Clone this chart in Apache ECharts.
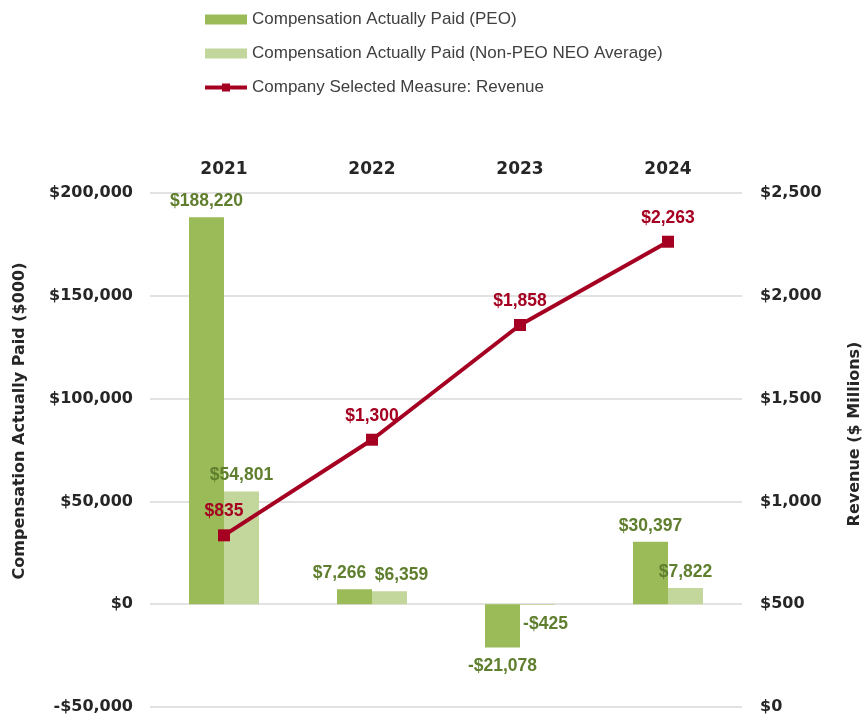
<!DOCTYPE html>
<html>
<head>
<meta charset="utf-8">
<script src="https://cdn.jsdelivr.net/npm/echarts@6/dist/echarts.min.js"></script>
<style>
  html, body { margin: 0; padding: 0; background: #fff; }
  #chart { width: 864px; height: 717px; }
</style>
</head>
<body>
<div id="chart"></div>
<script>
// data
const years = ['2021', '2022', '2023', '2024'];
const capPeo = [188220, 7266, -21078, 30397];
const capNonPeo = [54801, 6359, -425, 7822];
const revenue = [835, 1300, 1858, 2263];

// label nudges (style only)
const peoLabelOffset = [[0, 0], [-15, 0], [0, 0], [0, 0]];
const nonPeoLabelOffset = [[0, 0], [12, 0], [8, 0], [0, 0]];

const GREEN_DARK = '#9bbb59';
const GREEN_LIGHT = '#c3d69b';
const RED = '#a50021';
const LABEL_GREEN = '#5f7f2e';

const money = (v) => {
    const s = '$' + Math.abs(v).toLocaleString('en-US');
    return v < 0 ? '-' + s : s;
};

const chart = echarts.init(document.getElementById('chart'));

const barLabel = {
    show: true,
    position: 'top',
    distance: 7,
    color: LABEL_GREEN,
    fontFamily: 'Liberation Sans',
    fontWeight: 'bold',
    fontSize: 17.5,
    formatter: (p) => money(p.value)
};

const barItem = (offsets) => (v, i) => ({
    value: v,
    label: {
        position: v < 0 ? 'bottom' : 'top',
        distance: v < 0 ? 10 : 7,
        offset: offsets[i]
    }
});

const option = {
    animation: false,
    legend: {
        orient: 'vertical',
        left: 203,
        top: 11,
        padding: 0,
        itemGap: 17,
        itemWidth: 42,
        itemHeight: 10,
        textStyle: { color: '#404040', fontFamily: 'Liberation Sans', fontSize: 17 },
        data: [
            { name: 'Compensation Actually Paid (PEO)', icon: 'rect' },
            { name: 'Compensation Actually Paid (Non-PEO NEO Average)', icon: 'rect' },
            { name: 'Company Selected Measure: Revenue', lineStyle: { width: 4 } }
        ]
    },
    grid: { left: 150, right: 122, top: 193, bottom: 10, outerBoundsMode: 'none' },
    xAxis: {
        type: 'category',
        position: 'top',
        data: years,
        axisLine: { show: false },
        axisTick: { show: false },
        axisLabel: {
            margin: 15,
            color: '#262626',
            fontFamily: 'DejaVu Sans',
            fontWeight: 'bold',
            fontSize: 17
        }
    },
    yAxis: [
        {
            type: 'value',
            min: -50000,
            max: 200000,
            interval: 50000,
            name: 'Compensation Actually Paid ($000)',
            nameLocation: 'middle',
            nameRotate: 90,
            nameGap: 122,
            nameTextStyle: {
                color: '#262626',
                fontFamily: 'DejaVu Sans',
                fontWeight: 'bold',
                fontSize: 16,
                padding: [0, 0, 0, 58]
            },
            axisLine: { show: false },
            axisTick: { show: false },
            splitLine: { lineStyle: { color: '#d9d9d9', width: 1.5 } },
            axisLabel: {
                margin: 17,
                color: '#262626',
                fontFamily: 'DejaVu Sans',
                fontWeight: 'bold',
                fontSize: 16,
                formatter: money
            }
        },
        {
            type: 'value',
            min: 0,
            max: 2500,
            interval: 500,
            name: 'Revenue ($ Millions)',
            nameLocation: 'middle',
            nameRotate: 90,
            nameGap: 105,
            nameTextStyle: {
                color: '#262626',
                fontFamily: 'DejaVu Sans',
                fontWeight: 'bold',
                fontSize: 16,
                padding: [0, 0, 0, 32]
            },
            axisLine: { show: false },
            axisTick: { show: false },
            splitLine: { show: false },
            axisLabel: {
                margin: 18,
                color: '#262626',
                fontFamily: 'DejaVu Sans',
                fontWeight: 'bold',
                fontSize: 16,
                formatter: money
            }
        }
    ],
    series: [
        {
            name: 'Compensation Actually Paid (PEO)',
            type: 'bar',
            barWidth: 35,
            barGap: '0%',
            itemStyle: { color: GREEN_DARK },
            label: barLabel,
            data: capPeo.map(barItem(peoLabelOffset))
        },
        {
            name: 'Compensation Actually Paid (Non-PEO NEO Average)',
            type: 'bar',
            barWidth: 35,
            barGap: '0%',
            itemStyle: { color: GREEN_LIGHT },
            label: barLabel,
            data: capNonPeo.map(barItem(nonPeoLabelOffset))
        },
        {
            name: 'Company Selected Measure: Revenue',
            type: 'line',
            yAxisIndex: 1,
            data: revenue,
            symbol: 'rect',
            symbolSize: 12,
            lineStyle: { color: RED, width: 4 },
            itemStyle: { color: RED },
            label: {
                show: true,
                position: 'top',
                distance: 9,
                color: RED,
                fontFamily: 'Liberation Sans',
                fontWeight: 'bold',
                fontSize: 17.5,
                formatter: (p) => money(p.value)
            },
            z: 5
        }
    ]
};

chart.setOption(option);
</script>
</body>
</html>
